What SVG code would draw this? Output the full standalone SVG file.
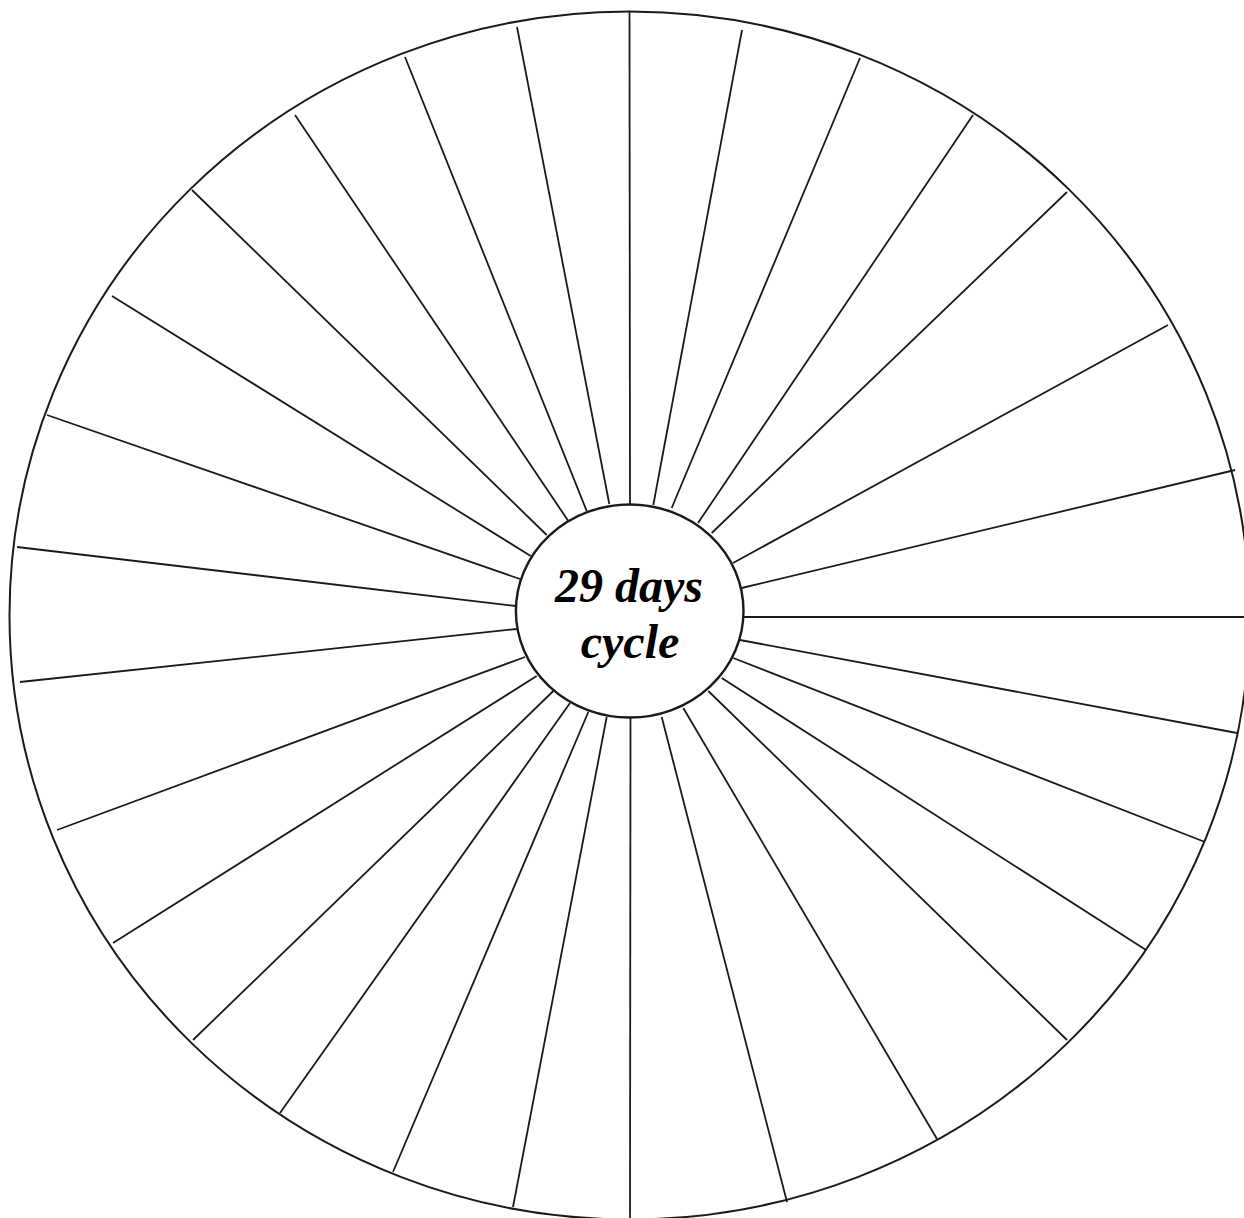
<svg xmlns="http://www.w3.org/2000/svg" width="1244" height="1218" viewBox="0 0 1244 1218">
<style>
.ring{fill:none;stroke:#1a1a1a;stroke-width:2}
.hub{fill:#fff;stroke:#1a1a1a;stroke-width:2.4}
.spk line{stroke:#1a1a1a;stroke-width:1.8;stroke-linecap:butt}
.lbl{font-family:"Liberation Serif","DejaVu Serif",serif;font-style:italic;font-weight:bold;font-size:48px;fill:#000;text-anchor:middle}
</style>
<rect width="1244" height="1218" fill="#fff"/>
<g id="outer-ring">
<ellipse class="ring" cx="629.5" cy="615.5" rx="620" ry="604"/>
</g>
<g id="spokes" class="spk">
<line x1="630" y1="504" x2="629.5" y2="12"/>
<line x1="653.3" y1="505" x2="742" y2="30"/>
<line x1="671.7" y1="508" x2="860" y2="58"/>
<line x1="698" y1="523" x2="973" y2="115"/>
<line x1="711.7" y1="533" x2="1067" y2="192"/>
<line x1="733" y1="563" x2="1168" y2="325"/>
<line x1="741.7" y1="588" x2="1235" y2="470"/>
<line x1="743.3" y1="617" x2="1244" y2="617"/>
<line x1="740" y1="640" x2="1237" y2="733"/>
<line x1="733.3" y1="658" x2="1205" y2="842"/>
<line x1="721.7" y1="678" x2="1146" y2="950"/>
<line x1="708.3" y1="691" x2="1067" y2="1040"/>
<line x1="683.3" y1="708" x2="937" y2="1139"/>
<line x1="661.7" y1="717" x2="787" y2="1202"/>
<line x1="630.5" y1="718" x2="630" y2="1218"/>
<line x1="606.7" y1="717" x2="513" y2="1207"/>
<line x1="588.3" y1="712" x2="393" y2="1172"/>
<line x1="570" y1="703" x2="280" y2="1113"/>
<line x1="553.3" y1="691" x2="193" y2="1040"/>
<line x1="536.7" y1="676" x2="113" y2="943"/>
<line x1="525" y1="657" x2="57" y2="830"/>
<line x1="516.7" y1="629" x2="20" y2="682"/>
<line x1="516" y1="606" x2="17" y2="547"/>
<line x1="520" y1="579" x2="47" y2="415"/>
<line x1="530.7" y1="556" x2="112" y2="296"/>
<line x1="546.7" y1="535" x2="192" y2="190"/>
<line x1="568.3" y1="521" x2="295" y2="115"/>
<line x1="586.7" y1="511" x2="405" y2="57"/>
<line x1="609.3" y1="504" x2="517" y2="27"/>
</g>
<g id="hub">
<ellipse class="hub" cx="629.7" cy="611" rx="113.8" ry="106.5"/>
<text class="lbl" x="629" y="602">29 days</text>
<text class="lbl" x="630" y="658">cycle</text>
</g>
</svg>
